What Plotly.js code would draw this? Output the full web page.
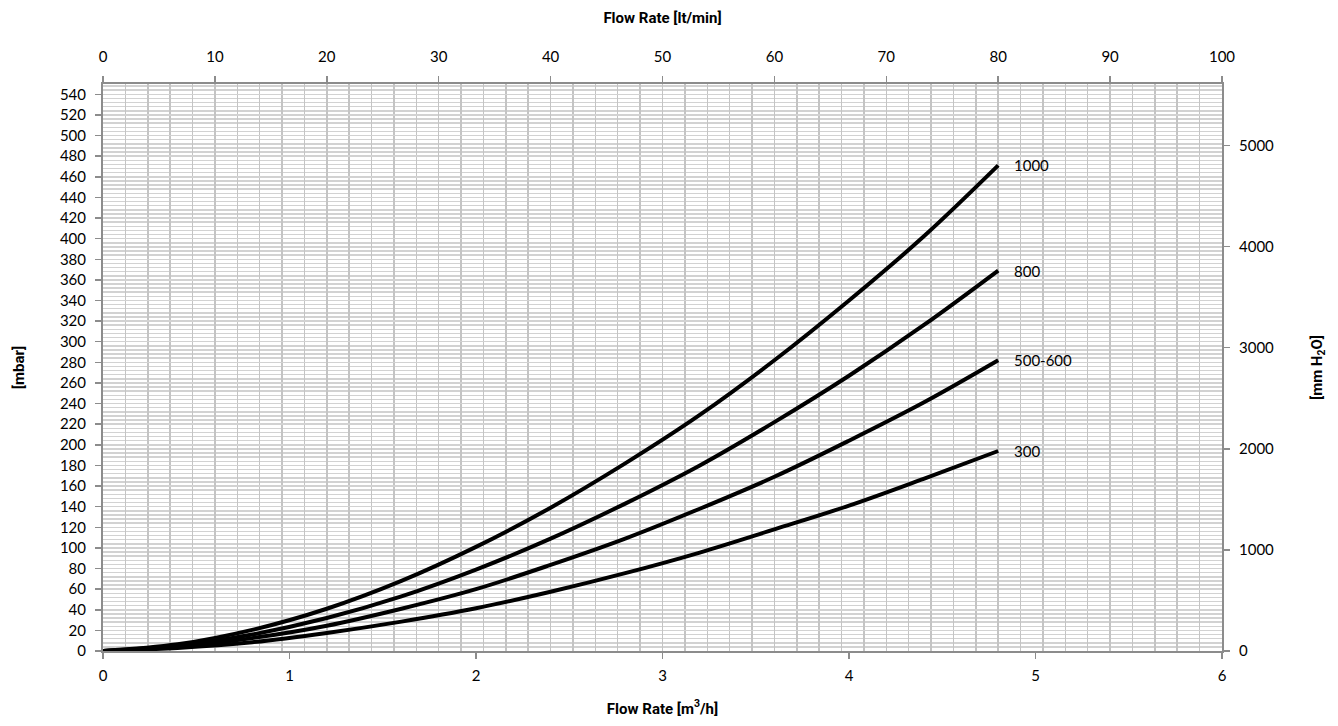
<!DOCTYPE html>
<html>
<head>
<meta charset="utf-8">
<script src="https://cdn.plot.ly/plotly-3.0.1.min.js"></script>
<style>html,body{margin:0;padding:0;background:#fff;}#chart{width:1338px;height:726px;}</style>
</head>
<body>
<div id="chart"></div>
<script>
// Flow rate [m3/h]
const flowM3h = [0, 0.4, 0.8, 1.2, 1.6, 2.0, 2.4, 2.8, 3.2, 3.6, 4.0, 4.4, 4.8];
// Pressure drop [mbar] per series
const series1000 = [0, 6.5, 20.5, 41, 68, 101, 139, 182, 229, 282, 340, 402, 471];
const series800 = [0, 5, 16, 32, 53, 79, 109, 143, 180, 222, 267, 316, 369];
const series500600 = [0, 4, 12.5, 24.5, 41, 60, 83.5, 109, 138, 169, 204, 241, 282];
const series300 = [0, 3, 8.5, 17.5, 28.5, 41.5, 57.5, 75.5, 95.5, 118, 141, 167, 194];
const seriesNames = ["1000", "800", "500-600", "300"];

const yMax = 550;              // mbar
const mbarToMmH2O = 10.197;    // conversion for right axis
const m3hToLtMin = 100 / 6;    // conversion for top axis

const font = "Lato, 'Open Sans', sans-serif";
const titleFont = "Roboto, 'DejaVu Sans', sans-serif";
const allSeries = [series1000, series800, series500600, series300];

const traces = allSeries.map((ys, i) => ({
  x: flowM3h, y: ys, type: 'scatter', mode: 'lines', name: seriesNames[i],
  line: {color: '#000', width: 4, shape: 'spline', smoothing: 1},
  xaxis: 'x', yaxis: 'y', hoverinfo: 'skip', showlegend: false
}));
// helper trace so the secondary axes are drawn
traces.push({x: [0, 6 * m3hToLtMin], y: [0, yMax * mbarToMmH2O], xaxis: 'x2', yaxis: 'y2',
  mode: 'markers', marker: {opacity: 0}, hoverinfo: 'skip', showlegend: false});

const annotations = allSeries.map((ys, i) => ({
  x: flowM3h[flowM3h.length - 1], y: ys[ys.length - 1], xref: 'x', yref: 'y',
  text: seriesNames[i], showarrow: false, xanchor: 'left', xshift: 14,
  font: {family: font, size: 15, color: '#000'}
}));

const axisCommon = {
  showline: true, linecolor: '#8c8c8c', linewidth: 2,
  ticks: 'outside', ticklen: 6, tickcolor: '#8c8c8c', tickwidth: 1.5,
  tickfont: {family: font, size: 15, color: '#000'}, zeroline: false,
  ticklabelstandoff: 6
};

const layout = {
  width: 1338, height: 726,
  margin: {l: 103, r: 116, t: 84, b: 75},
  paper_bgcolor: '#fff', plot_bgcolor: '#fff',
  showlegend: false,
  xaxis: Object.assign({}, axisCommon, {
    range: [0, 6], dtick: 1, tick0: 0, showgrid: false,
    ticklabelstandoff: 4,
    title: {text: 'Flow Rate [m<sup>3</sup>/h]', font: {family: titleFont, size: 15, weight: 'bold', color: '#000'}, standoff: 20}
  }),
  xaxis2: Object.assign({}, axisCommon, {
    overlaying: 'x', side: 'top', anchor: 'y', range: [0, 100], dtick: 10, tick0: 0,
    showgrid: true, gridcolor: '#c4c4c4', gridwidth: 1.5,
    minor: {dtick: 2, showgrid: true, gridcolor: '#c4c4c4', gridwidth: 1.5, ticks: ''},
    ticklabelstandoff: 8,
    title: {text: 'Flow Rate [lt/min]', font: {family: titleFont, size: 15, weight: 'bold', color: '#000'}, standoff: 20}
  }),
  yaxis: Object.assign({}, axisCommon, {
    range: [0, yMax], dtick: 20, tick0: 0,
    showgrid: true, gridcolor: '#d2d2d2', gridwidth: 1.5,
    minor: {dtick: 4, showgrid: true, gridcolor: '#d2d2d2', gridwidth: 1.5, ticks: ''},
    title: {text: '[mbar]', font: {family: titleFont, size: 15, weight: 'bold', color: '#000'}, standoff: 32}
  }),
  yaxis2: Object.assign({}, axisCommon, {
    overlaying: 'y', side: 'right', anchor: 'x', range: [0, yMax * mbarToMmH2O], dtick: 1000, tick0: 0,
    showgrid: false,
    title: {text: '[mm H<sub>2</sub>O]', font: {family: titleFont, size: 15, weight: 'bold', color: '#000'}, standoff: 38}
  }),
  annotations: annotations
};

Plotly.newPlot('chart', traces, layout, {displayModeBar: false, staticPlot: true});
</script>
</body>
</html>
